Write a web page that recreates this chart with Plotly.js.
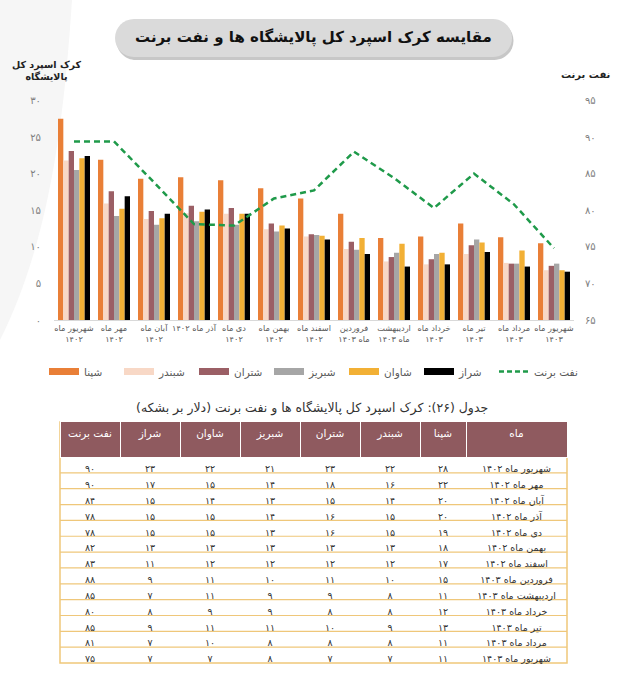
<!DOCTYPE html>
<html><head><meta charset="utf-8">
<script src="https://cdn.plot.ly/plotly-3.0.1.min.js"></script>
<style>html,body{margin:0;padding:0;background:#fff;} #chart{width:624px;height:679px;}</style>
</head><body><div id="chart"></div>
<script>
// ---------- data ----------
const categories = ["شهریور ماه<br>۱۴۰۲","مهر ماه<br>۱۴۰۲","آبان ماه<br>۱۴۰۲","آذر ماه ۱۴۰۲","دی ماه<br>۱۴۰۲","بهمن ماه<br>۱۴۰۲","اسفند ماه<br>۱۴۰۲","فروردین<br>ماه ۱۴۰۳","اردیبهشت<br>ماه ۱۴۰۳","خرداد ماه<br>۱۴۰۳","تیر ماه<br>۱۴۰۳","مرداد ماه<br>۱۴۰۳","شهریور ماه<br>۱۴۰۳"];
const seriesNames = ["شپنا","شبندر","شتران","شبریز","شاوان","شراز"];
const brentName = "نفت برنت";
const shepna    = [27.5,21.9,19.3,19.5,19.1,18.0,16.6,14.5,11.2,11.4,13.2,11.3,10.5];
const shebandar = [21.8,15.9,13.8,14.6,14.5,12.4,11.4,9.7,8.0,7.6,9.0,7.8,6.8];
const shetran   = [23.1,17.6,14.9,15.6,15.3,13.2,11.7,10.7,8.6,8.3,10.2,7.7,7.4];
const shebriz   = [20.5,14.2,13.0,13.5,13.0,12.1,11.6,9.6,9.2,9.0,11.0,7.7,7.7];
const shavan    = [22.1,15.2,13.9,14.8,14.5,12.9,11.5,11.2,10.4,9.2,10.6,9.5,6.8];
const shiraz    = [22.4,16.9,14.5,15.1,14.5,12.5,11.0,9.0,7.3,7.6,9.3,7.3,6.6];
const brent     = [89.4,89.4,83.8,78.1,77.9,81.6,82.7,88.0,84.4,80.3,85.0,80.8,74.8];

const leftTicks  = [0,5,10,15,20,25,30];
const rightTicks = [65,70,75,80,85,90,95];

const tableHeader = ["نفت برنت","شراز","شاوان","شبریز","شتران","شبندر","شپنا","ماه"];
const tableMonths = ["شهریور ماه ۱۴۰۲","مهر ماه ۱۴۰۲","آبان ماه ۱۴۰۲","آذر ماه ۱۴۰۲","دی ماه ۱۴۰۲","بهمن ماه ۱۴۰۲","اسفند ماه ۱۴۰۲","فروردین ماه ۱۴۰۳","اردیبهشت ماه ۱۴۰۳","خرداد ماه ۱۴۰۳","تیر ماه ۱۴۰۳","مرداد ماه ۱۴۰۳","شهریور ماه ۱۴۰۳"];
const tShepna    = [28,22,20,20,19,18,17,15,11,12,13,11,11];
const tShebandar = [22,16,14,15,15,13,12,10,8,8,9,8,7];
const tShetran   = [23,18,15,16,16,13,12,11,9,8,10,8,7];
const tShebriz   = [21,14,13,14,13,13,12,10,9,9,11,8,8];
const tShavan    = [22,15,14,15,15,13,12,11,11,9,11,10,7];
const tShiraz    = [23,17,15,15,15,13,11,9,7,8,9,7,7];
const tBrent     = [90,90,84,78,78,82,83,88,85,80,85,81,75];

const chartTitle = "مقایسه کرک اسپرد کل پالایشگاه ها و نفت برنت";
const leftTitle = "کرک اسپرد کل<br>پالایشگاه";
const rightTitle = "نفت برنت";
const tableTitle = "جدول (۲۶): کرک اسپرد کل پالایشگاه ها و نفت برنت (دلار بر بشکه)";

// ---------- helpers ----------
const W = 624, H = 679;
const px = v => v / W;
const py = v => 1 - v / H;
const fa = n => String(n).replace(/[0-9]/g, d => "۰۱۲۳۴۵۶۷۸۹"[d]);
const nb = s => s.replace(/ /g, "\u00A0");
const FONT = "DejaVu Sans, Noto Sans, sans-serif";
const colors = ["#e97f37","#f8d8c6","#9b5f65","#a6a6a6","#f2b035","#000000"];
const brentColor = "#1f9a4a";

function pill(x0, y0, x1, y1) {
  const r = (y1 - y0) / 2, k = 0.5523 * r;
  const P = (x, y) => px(x) + "," + py(y);
  return "M" + P(x0 + r, y0) + " L" + P(x1 - r, y0) +
    " C" + P(x1 - r + k, y0) + " " + P(x1, y0 + r - k) + " " + P(x1, y0 + r) +
    " C" + P(x1, y0 + r + k) + " " + P(x1 - r + k, y1) + " " + P(x1 - r, y1) +
    " L" + P(x0 + r, y1) +
    " C" + P(x0 + r - k, y1) + " " + P(x0, y0 + r + k) + " " + P(x0, y0 + r) +
    " C" + P(x0, y0 + r - k) + " " + P(x0 + r - k, y0) + " " + P(x0 + r, y0) + " Z";
}

// ---------- traces ----------
const values = [shepna, shebandar, shetran, shebriz, shavan, shiraz];
const traces = [];
values.forEach((v, i) => {
  traces.push({type: "bar", x: categories, y: v, name: seriesNames[i],
    marker: {color: colors[i]}, showlegend: false, hoverinfo: "skip"});
});
traces.push({type: "scatter", mode: "lines", x: categories, y: brent, yaxis: "y2",
  name: brentName, line: {color: brentColor, width: 2.5, dash: "6px,4px"},
  showlegend: false, hoverinfo: "skip"});
// legend entries
seriesNames.forEach((n, i) => {
  traces.push({type: "scatter", mode: "lines", x: [null], y: [null], name: n,
    line: {color: colors[i], width: 7}, hoverinfo: "skip"});
});
traces.push({type: "scatter", mode: "lines", x: [null], y: [null], name: brentName,
  legendwidth: 70,
  line: {color: brentColor, width: 2.5, dash: "5px,3px"}, hoverinfo: "skip"});

// table
traces.push({
  type: "table",
  domain: {x: [px(60), px(567)], y: [py(665), py(421)]},
  columnwidth: [60,60,60,60,60,60,46,101],
  header: {values: tableHeader.map(nb), align: "center", height: 36,
    fill: {color: "#8f5a5f"}, line: {color: "#ffffff", width: 1},
    font: {family: FONT, size: 10.5, color: "#ffffff"}},
  cells: {values: [tBrent, tShiraz, tShavan, tShebriz, tShetran, tShebandar, tShepna].map(a => a.map(fa)).concat([tableMonths.map(nb)]),
    align: "center", height: 15.85,
    fill: {color: "rgba(0,0,0,0)"}, line: {color: "rgba(0,0,0,0)", width: 0},
    font: {family: FONT, size: 9.5, color: "#333333"}}
});

// ---------- shapes ----------
const shapes = [
  {type: "path", xref: "paper", yref: "paper", layer: "below",
   path: "M" + px(0) + "," + py(0) + " L" + px(72) + "," + py(0) +
         " C" + px(64) + "," + py(120) + " " + px(50) + "," + py(240) + " " + px(0) + "," + py(340) + " Z",
   fillcolor: "#f6f6f6", line: {width: 0}},
  {type: "path", xref: "paper", yref: "paper", layer: "below",
   path: pill(116.5, 21.5, 513.5, 60), fillcolor: "rgba(0,0,0,0.22)", line: {width: 0}},
  {type: "path", xref: "paper", yref: "paper", layer: "below",
   path: pill(115, 19, 512, 57), fillcolor: "#dadada", line: {width: 0}},
  {type: "rect", xref: "paper", yref: "paper", layer: "below",
   x0: px(60), x1: px(567), y0: py(663), y1: py(422),
   fillcolor: "rgba(0,0,0,0)", line: {color: "#efc77a", width: 1.5}}
];
for (let k = 0; k < 13; k++) {
  const yy = 457 + k * 15.85;
  shapes.push({type: "line", xref: "paper", yref: "paper", layer: "below",
    x0: px(60), x1: px(567), y0: py(yy), y1: py(yy),
    line: {color: "#efc77a", width: 1.2}});
}

// ---------- annotations ----------
const A = {xref: "paper", yref: "paper", showarrow: false, xanchor: "center", yanchor: "middle"};
const annotations = [
  Object.assign({text: "<b>" + chartTitle + "</b>", x: px(313), y: py(37),
   font: {family: FONT, size: 15, color: "#111"}}, A),
  Object.assign({text: "<b>" + leftTitle + "</b>", x: px(47), y: py(71),
   font: {family: FONT, size: 9.5, color: "#222"}}, A),
  Object.assign({text: "<b>" + rightTitle + "</b>", x: px(585), y: py(75),
   font: {family: FONT, size: 10, color: "#222"}}, A),
  Object.assign({text: "\u200F" + tableTitle + "\u200F", x: px(312), y: py(408),
   font: {family: FONT, size: 12.5, color: "#333"}}, A)
];

const layout = {
  width: W, height: H,
  margin: {l: 0, r: 0, t: 0, b: 0},
  paper_bgcolor: "#ffffff", plot_bgcolor: "rgba(0,0,0,0)",
  font: {family: FONT},
  barmode: "group", bargap: 0.2, bargroupgap: 0,
  showlegend: true,
  legend: {orientation: "h", x: px(44), y: py(357), xanchor: "left", yanchor: "top",
    font: {family: FONT, size: 10.5, color: "#595959"}, entrywidth: 30, entrywidthmode: "pixels",
    bgcolor: "rgba(0,0,0,0)", traceorder: "normal"},
  xaxis: {domain: [px(54), px(574)], type: "category", showline: true, linecolor: "#d9d9d9",
    linewidth: 1, ticks: "", showgrid: false, zeroline: false, tickangle: 0,
    tickfont: {family: FONT, size: 8.2, color: "#595959"}, automargin: false},
  yaxis: {domain: [py(320), py(100.4)], range: [0, 30], tickvals: leftTicks, ticktext: leftTicks.map(fa),
    showgrid: false, zeroline: false, showline: false, ticks: "", ticklabelstandoff: 12,
    tickfont: {family: FONT, size: 10, color: "#7f7f7f"}, automargin: false},
  yaxis2: {overlaying: "y", side: "right", range: [65, 95], tickvals: rightTicks, ticktext: rightTicks.map(fa),
    showgrid: false, zeroline: false, showline: false, ticks: "", ticklabelstandoff: 10,
    tickfont: {family: FONT, size: 10, color: "#7f7f7f"}, automargin: false},
  shapes: shapes,
  annotations: annotations
};

Plotly.newPlot("chart", traces, layout, {staticPlot: true, displayModeBar: false});
</script></body></html>
